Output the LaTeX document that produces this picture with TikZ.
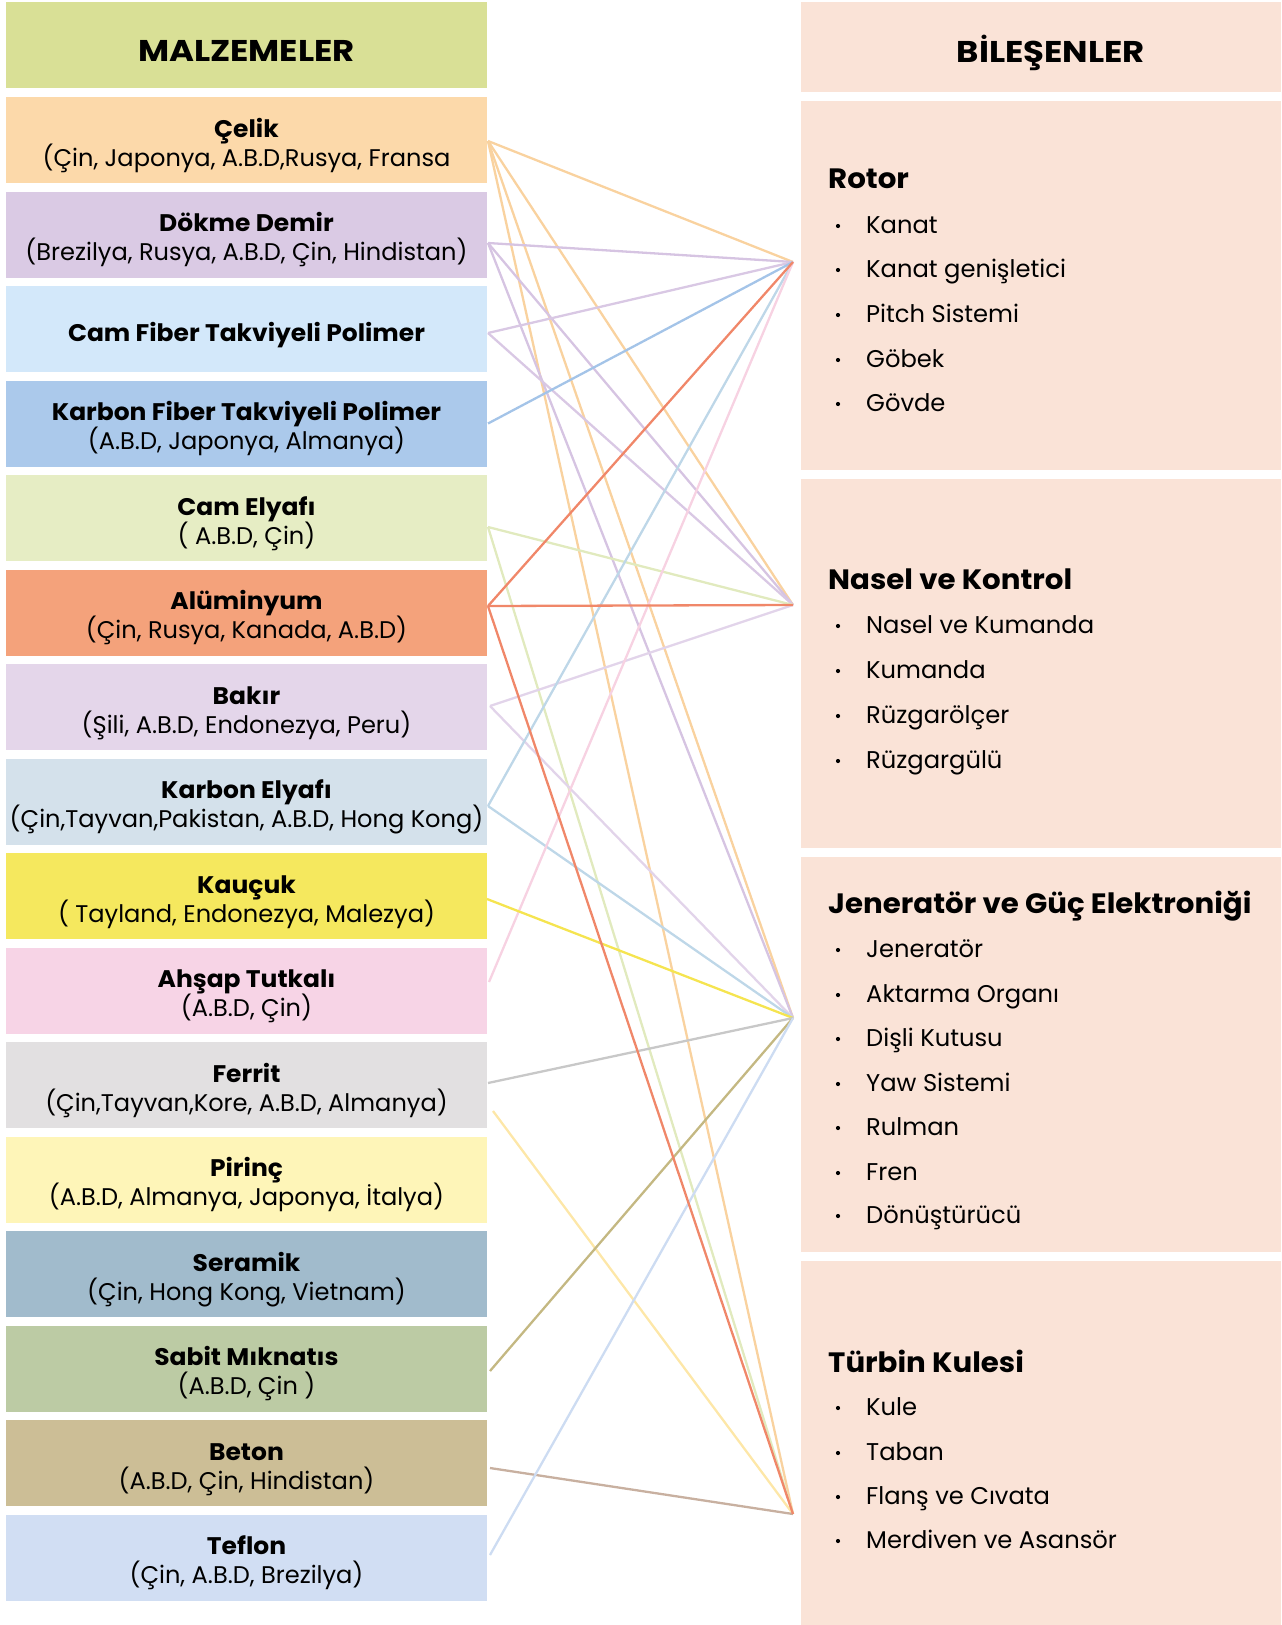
\documentclass[tikz,border=0pt]{standalone}
\usepackage{fontspec}
\setmainfont{Poppins}
\newfontfamily\hdrfont[FakeStretch=1.13]{Poppins}
\newfontfamily\ttlfont[FakeStretch=1.04]{Poppins}
\newfontfamily\ctlfont[FakeStretch=1.045]{Poppins}
\usetikzlibrary{calc}
\definecolor{hdrL}{HTML}{D9E096}
\definecolor{comp}{HTML}{FAE3D7}
\definecolor{fCelik}{HTML}{FCD9AA}
\definecolor{fDokme}{HTML}{DACAE4}
\definecolor{fCamFiber}{HTML}{D3E8FA}
\definecolor{fKarbonFiber}{HTML}{ABC9EB}
\definecolor{fCamElyaf}{HTML}{E6EDC4}
\definecolor{fAlu}{HTML}{F4A27B}
\definecolor{fBakir}{HTML}{E4D6EA}
\definecolor{fKarbonElyaf}{HTML}{D4E1EB}
\definecolor{fKaucuk}{HTML}{F5E85E}
\definecolor{fAhsap}{HTML}{F7D4E6}
\definecolor{fFerrit}{HTML}{E2E0E1}
\definecolor{fPirinc}{HTML}{FEF5B8}
\definecolor{fSeramik}{HTML}{A1BBCC}
\definecolor{fSabit}{HTML}{BCCBA4}
\definecolor{fBeton}{HTML}{CCBE96}
\definecolor{fTeflon}{HTML}{D1DEF3}
\definecolor{lCelik}{HTML}{F9D29F}
\definecolor{lDokme}{HTML}{D6C4E2}
\definecolor{lCamFiber}{HTML}{D9C8E4}
\definecolor{lKarbonFiber}{HTML}{A4C4E8}
\definecolor{lCamElyaf}{HTML}{E1EABE}
\definecolor{lAlu}{HTML}{F08769}
\definecolor{lBakir}{HTML}{E2D4EA}
\definecolor{lKarbonElyaf}{HTML}{BED7E8}
\definecolor{lKaucuk}{HTML}{F5E450}
\definecolor{lAhsap}{HTML}{F7D2E2}
\definecolor{lFerrit}{HTML}{C8C8C8}
\definecolor{lPirinc}{HTML}{FDE7A8}
\definecolor{lSabit}{HTML}{C4B882}
\definecolor{lBeton}{HTML}{C8B0A0}
\definecolor{lTeflon}{HTML}{CDDCF2}

\newcommand\matitem[5]{%
  \node[mbox, fill=#3] (#1) at (246.5,#2) {};
  \node[ttl] (#1-t) at ([yshift=3pt]#1.center) {#4};
  \node[subt] (#1-s) at ([yshift=-26pt]#1.center) {#5};
}
\newcommand\compitem[3]{%
  \fill (838,#2-7) circle (2.1pt);
  \node[citem] (#1) at (866,#2) {#3};
}

\begin{document}
\begin{tikzpicture}[x=1pt,y=-1pt,
  mbox/.style={draw=none, minimum width=481pt, minimum height=86pt, inner sep=0pt, outer sep=0pt},
  ttl/.style={font=\ttlfont\fontsize{24}{28}\selectfont\bfseries, inner sep=0pt, anchor=base},
  subt/.style={font=\fontsize{24.1}{28}\selectfont, inner sep=0pt, anchor=base},
  hdr/.style={font=\hdrfont\fontsize{30}{34}\selectfont\bfseries, inner sep=0pt, anchor=base},
  cbox/.style={fill=comp, minimum width=480pt, inner sep=0pt, outer sep=0pt},
  ctitle/.style={font=\ctlfont\fontsize{28}{32}\selectfont\bfseries, inner sep=0pt, anchor=base west},
  citem/.style={font=\fontsize{24.2}{30}\selectfont, inner sep=0pt, anchor=base west},
  link/.style={line width=2.3pt}
]
\useasboundingbox (0,0) rectangle (1282,1625);

% ---------- left column ----------
\node[mbox, fill=hdrL, minimum height=86pt] (hdrmat) at (246.5,45) {};
\node[hdr] (hdrmat-t) at (246.5,61) {MALZEMELER};

\matitem{celik}{140}{fCelik}{Çelik}{(Çin, Japonya, A.B.D,Rusya, Fransa}
\matitem{dokme}{234.5}{fDokme}{Dökme Demir}{(Brezilya, Rusya, A.B.D, Çin, Hindistan)}
\node[mbox, fill=fCamFiber] (camfiber) at (246.5,329) {};
\node[ttl] (camfiber-t) at ([yshift=-12pt]camfiber.center) {Cam Fiber Takviyeli Polimer};
\matitem{karbonfiber}{423.5}{fKarbonFiber}{Karbon Fiber Takviyeli Polimer}{(A.B.D, Japonya, Almanya)}
\matitem{camelyaf}{518}{fCamElyaf}{Cam Elyafı}{( A.B.D, Çin)}
\matitem{alu}{612.5}{fAlu}{Alüminyum}{(Çin, Rusya, Kanada, A.B.D)}
\matitem{bakir}{707}{fBakir}{Bakır}{(Şili, A.B.D, Endonezya, Peru)}
\matitem{karbonelyaf}{801.5}{fKarbonElyaf}{Karbon Elyafı}{(Çin,Tayvan,Pakistan, A.B.D, Hong Kong)}
\matitem{kaucuk}{896}{fKaucuk}{Kauçuk}{( Tayland, Endonezya, Malezya)}
\matitem{ahsap}{990.5}{fAhsap}{Ahşap Tutkalı}{(A.B.D, Çin)}
\matitem{ferrit}{1085}{fFerrit}{Ferrit}{(Çin,Tayvan,Kore, A.B.D, Almanya)}
\matitem{pirinc}{1179.5}{fPirinc}{Pirinç}{(A.B.D, Almanya, Japonya, İtalya)}
\matitem{seramik}{1274}{fSeramik}{Seramik}{(Çin, Hong Kong, Vietnam)}
\matitem{sabit}{1368.5}{fSabit}{Sabit Mıknatıs}{(A.B.D, Çin )}
\matitem{beton}{1463}{fBeton}{Beton}{(A.B.D, Çin, Hindistan)}
\matitem{teflon}{1557.5}{fTeflon}{Teflon}{(Çin, A.B.D, Brezilya)}

% ---------- right column ----------
\node[cbox, minimum height=90pt] (hdrcomp) at (1041,47) {};
\node[hdr] (hdrcomp-t) at (1051,62) {BİLEŞENLER};

\node[cbox, minimum height=369pt] (rotor) at (1041,285) {};
\node[ctitle] (rotor-t) at (828,188) {Rotor};
\compitem{r1}{233}{Kanat}
\compitem{r2}{277}{Kanat genişletici}
\compitem{r3}{322}{Pitch Sistemi}
\compitem{r4}{367}{Göbek}
\compitem{r5}{411}{Gövde}

\node[cbox, minimum height=369pt] (nasel) at (1041,663.5) {};
\node[ctitle] (nasel-t) at (828,589) {Nasel ve Kontrol};
\compitem{n1}{633}{Nasel ve Kumanda}
\compitem{n2}{678}{Kumanda}
\compitem{n3}{723}{Rüzgarölçer}
\compitem{n4}{768}{Rüzgargülü}

\node[cbox, minimum height=395pt] (jen) at (1041,1054.5) {};
\node[ctitle] (jen-t) at (828,913) {Jeneratör ve Güç Elektroniği};
\compitem{j1}{957}{Jeneratör}
\compitem{j2}{1002}{Aktarma Organı}
\compitem{j3}{1046}{Dişli Kutusu}
\compitem{j4}{1091}{Yaw Sistemi}
\compitem{j5}{1135}{Rulman}
\compitem{j6}{1180}{Fren}
\compitem{j7}{1223}{Dönüştürücü}

\node[cbox, minimum height=364pt] (turbin) at (1041,1443) {};
\node[ctitle] (turbin-t) at (828,1372) {Türbin Kulesi};
\compitem{t1}{1415}{Kule}
\compitem{t2}{1460}{Taban}
\compitem{t3}{1504}{Flanş ve Cıvata}
\compitem{t4}{1548}{Merdiven ve Asansör}

% ---------- connector end points ----------
\coordinate (hRotor) at ([xshift=-8pt]rotor.west |- 0,262);
\coordinate (hNasel) at ([xshift=-8pt]nasel.west |- 0,605);
\coordinate (hJen) at ([xshift=-8pt]jen.west |- 0,1018);
\coordinate (hTurbin) at ([xshift=-8pt]turbin.west |- 0,1514);

\coordinate (pCelik) at ([xshift=1pt,yshift=-1pt]celik.east);
\coordinate (pDokme) at ([xshift=1pt,yshift=-8.5pt]dokme.east);
\coordinate (pCamFiber) at ([xshift=1pt,yshift=-4pt]camfiber.east);
\coordinate (pKarbonFiber) at ([xshift=1pt]karbonfiber.east);
\coordinate (pCamElyaf) at ([xshift=1pt,yshift=-9pt]camelyaf.east);
\coordinate (pAlu) at ([xshift=1pt,yshift=6.5pt]alu.east);
\coordinate (pBakir) at ([xshift=3pt,yshift=1pt]bakir.east);
\coordinate (pKarbonElyaf) at ([xshift=1pt,yshift=-4.5pt]karbonelyaf.east);
\coordinate (pKaucuk) at ([yshift=-3pt]kaucuk.east);
\coordinate (pAhsap) at ([xshift=2pt,yshift=8.5pt]ahsap.east);
\coordinate (pFerrit) at ([xshift=1pt,yshift=2pt]ferrit.east);
\coordinate (pPirinc) at ([xshift=6pt,yshift=68.5pt]pirinc.east);
\coordinate (pSabit) at ([xshift=3pt,yshift=-2.5pt]sabit.east);
\coordinate (pBeton) at ([xshift=3pt,yshift=-5pt]beton.east);
\coordinate (pTeflon) at ([xshift=3pt,yshift=2.5pt]teflon.east);

% ---------- connectors ----------
\draw[link, lCelik] (pCelik) -- (hRotor);
\draw[link, lCelik] (pCelik) -- (hNasel);
\draw[link, lCelik] (pCelik) -- (hJen);
\draw[link, lCelik] (pCelik) -- (hTurbin);
\draw[link, lDokme] (pDokme) -- (hRotor);
\draw[link, lDokme] (pDokme) -- (hNasel);
\draw[link, lDokme] (pDokme) -- (hJen);
\draw[link, lCamFiber] (pCamFiber) -- (hRotor);
\draw[link, lCamFiber] (pCamFiber) -- (hNasel);
\draw[link, lKarbonFiber] (pKarbonFiber) -- (hRotor);
\draw[link, lCamElyaf] (pCamElyaf) -- (hNasel);
\draw[link, lCamElyaf] (pCamElyaf) -- (hTurbin);
\draw[link, lBakir] (pBakir) -- (hNasel);
\draw[link, lBakir] (pBakir) -- (hJen);
\draw[link, lKarbonElyaf] (pKarbonElyaf) -- (hRotor);
\draw[link, lKarbonElyaf] (pKarbonElyaf) -- (hJen);
\draw[link, lAhsap] (pAhsap) -- (hRotor);
\draw[link, lKaucuk] (pKaucuk) -- (hJen);
\draw[link, lFerrit] (pFerrit) -- (hJen);
\draw[link, lPirinc] (pPirinc) -- (hTurbin);
\draw[link, lSabit] (pSabit) -- (hJen);
\draw[link, lBeton] (pBeton) -- (hTurbin);
\draw[link, lTeflon] (pTeflon) -- (hJen);
\draw[link, lAlu] (pAlu) -- (hRotor);
\draw[link, lAlu] (pAlu) -- (hNasel);
\draw[link, lAlu] (pAlu) -- (hTurbin);
\end{tikzpicture}
\end{document}
